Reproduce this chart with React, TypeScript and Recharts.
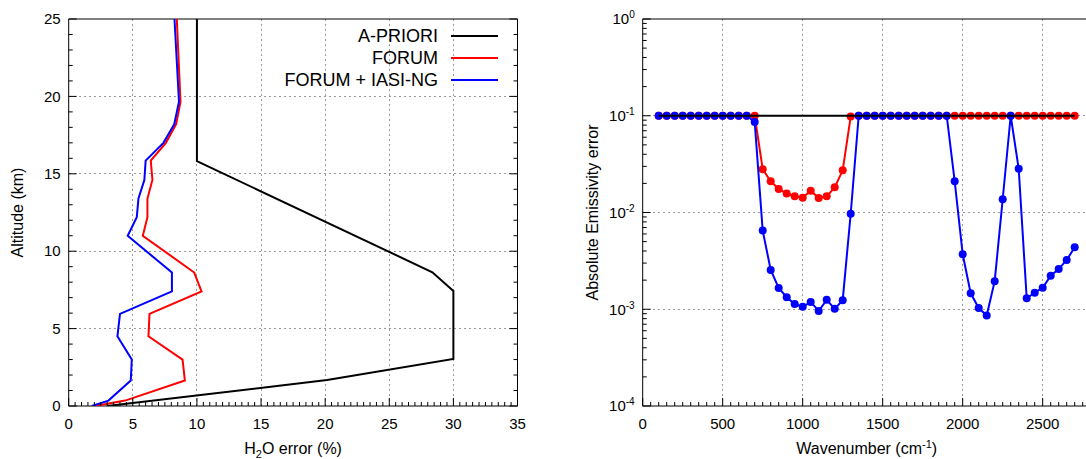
import React from "react";
import { ScatterChart, Scatter, XAxis, YAxis, ReferenceLine, Legend } from "recharts";

const FONT = '"Liberation Sans", Arial, sans-serif';

// ---- left panel: H2O error profiles ----
const profileAlt = [0, 0.35, 1.65, 3.0, 4.5, 5.95, 7.4, 8.62, 11.0, 12.2, 13.4, 14.6, 15.85, 17.0, 18.2, 19.65, 25];
const forumH2O = [2.05, 4.4, 9.06, 8.88, 6.22, 6.3, 10.36, 9.79, 5.78, 6.14, 6.14, 6.53, 6.4, 7.58, 8.38, 8.72, 8.43];
const forumIasiH2O = [1.8, 3.1, 4.84, 4.92, 3.8, 4.0, 8.05, 8.05, 4.6, 5.31, 5.44, 5.9, 6.0, 7.39, 8.23, 8.6, 8.25];
const aprioriAlt = [0, 1.68, 3.04, 7.43, 8.64, 15.82, 25];
const aprioriH2O = [3.0, 20.15, 30.0, 30.0, 28.36, 10.0, 10.0];

const h2oTicks = [0, 5, 10, 15, 20, 25, 30, 35];
const altTicks = [0, 5, 10, 15, 20, 25];

// ---- right panel: emissivity error vs wavenumber ----
const wavenumbers = [
  100, 150, 200, 250, 300, 350, 400, 450, 500, 550, 600, 650, 700, 750, 800, 850, 900, 950,
  1000, 1050, 1100, 1150, 1200, 1250, 1300, 1350, 1400, 1450, 1500, 1550, 1600, 1650, 1700, 1750,
  1800, 1850, 1900, 1950, 2000, 2050, 2100, 2150, 2200, 2250, 2300, 2350, 2400, 2450, 2500, 2550,
  2600, 2650, 2700,
];
const aprioriEmis = [
  0.1, 0.1, 0.1, 0.1, 0.1, 0.1, 0.1, 0.1, 0.1, 0.1, 0.1, 0.1, 0.1, 0.1, 0.1, 0.1, 0.1, 0.1,
  0.1, 0.1, 0.1, 0.1, 0.1, 0.1, 0.1, 0.1, 0.1, 0.1, 0.1, 0.1, 0.1, 0.1, 0.1, 0.1,
  0.1, 0.1, 0.1, 0.1, 0.1, 0.1, 0.1, 0.1, 0.1, 0.1, 0.1, 0.1, 0.1, 0.1, 0.1, 0.1,
  0.1, 0.1, 0.1,
];
const forumEmis = [
  0.1, 0.1, 0.1, 0.1, 0.1, 0.1, 0.1, 0.1, 0.1, 0.1, 0.1, 0.1, 0.1, 0.028, 0.021, 0.0175, 0.0157, 0.0147,
  0.0142, 0.0168, 0.0141, 0.0147, 0.0182, 0.0273, 0.098, 0.1, 0.1, 0.1, 0.1, 0.1, 0.1, 0.1, 0.1, 0.1,
  0.1, 0.1, 0.1, 0.1, 0.1, 0.1, 0.1, 0.1, 0.1, 0.1, 0.1, 0.1, 0.1, 0.1, 0.1, 0.1,
  0.1, 0.1, 0.1,
];
const forumIasiEmis = [
  0.1, 0.1, 0.1, 0.1, 0.1, 0.1, 0.1, 0.1, 0.1, 0.1, 0.1, 0.1, 0.086, 0.0065, 0.00255, 0.00166, 0.00133, 0.00113,
  0.00106, 0.00119, 0.00096, 0.00125, 0.00101, 0.00124, 0.0097, 0.1, 0.1, 0.1, 0.1, 0.1, 0.1, 0.1, 0.1, 0.1,
  0.1, 0.1, 0.1, 0.021, 0.0037, 0.00146, 0.00103, 0.00086, 0.00195, 0.0137, 0.1, 0.0283, 0.0013, 0.00148, 0.00167, 0.00222,
  0.0026, 0.00323, 0.00437,
];

const wnTicks = [0, 500, 1000, 1500, 2000, 2500];
const emisTicks = [1e-4, 1e-3, 1e-2, 1e-1, 1];

const legendNames = ["A-PRIORI", "FORUM", "FORUM + IASI-NG"];
const legendColors = ["#000000", "#ff0000", "#0000ff"];

// minor tick positions (axis decoration only)
const h2oMinor = Array.from({ length: 71 }, (_, i) => i * 0.5);
const altMinor = Array.from({ length: 26 }, (_, i) => i);
const wnMinor = Array.from({ length: 57 }, (_, i) => i * 50);
const emisMinor: number[] = [];
[-4, -3, -2, -1].forEach((d) => {
  for (let m = 1; m <= 9; m++) emisMinor.push(m * Math.pow(10, d));
});
emisMinor.push(1);

const toPoints = (xs: number[], ys: number[]) => xs.map((x, i) => ({ x, y: ys[i] }));

const isLogMajor = (v: number) => Math.abs(Math.log10(v) - Math.round(Math.log10(v))) < 1e-6;

const textStyle = { fontSize: 15, fontFamily: FONT, fill: "#000" };
const titleStyle = { fontSize: 16, fontFamily: FONT, fill: "#000" };

function makeTick(
  side: "bottom" | "top" | "left" | "right",
  majors: (v: number) => boolean,
  label?: (v: number) => React.ReactNode
) {
  return (props: any) => {
    const { x, y, payload } = props;
    const v = payload.value;
    const major = majors(v);
    const len = major ? 8 : 4;
    let line = null;
    if (side === "bottom") line = <line x1={x} y1={y} x2={x} y2={y - len} stroke="#000" />;
    if (side === "top") line = <line x1={x} y1={y} x2={x} y2={y + len} stroke="#000" />;
    if (side === "left") line = <line x1={x} y1={y} x2={x + len} y2={y} stroke="#000" />;
    if (side === "right") line = <line x1={x} y1={y} x2={x - len} y2={y} stroke="#000" />;
    let text = null;
    if (label && major && side === "bottom")
      text = (
        <text x={x} y={y + 18} dy="0.35em" textAnchor="middle" {...textStyle}>
          {label(v)}
        </text>
      );
    if (label && major && side === "left")
      text = (
        <text x={x - 8} y={y} dy="0.35em" textAnchor="end" {...textStyle}>
          {label(v)}
        </text>
      );
    return (
      <g>
        {line}
        {text}
      </g>
    );
  };
}

const expLabel = (v: number) => (
  <>
    10
    <tspan dy={-6} fontSize={10}>
      {Math.round(Math.log10(v))}
    </tspan>
  </>
);

const ProfileLegend = () => (
  <div style={{ fontFamily: FONT, fontSize: 18, color: "#000" }}>
    {legendNames.map((n, i) => (
      <div
        key={n}
        style={{ display: "flex", justifyContent: "flex-end", alignItems: "center", height: 22 }}
      >
        <span>{n}</span>
        <span
          style={{ display: "inline-block", width: 47, height: 2, background: legendColors[i], marginLeft: 13 }}
        />
      </div>
    ))}
  </div>
);

const noDot = () => <g />;
const dot = (color: string) => (p: any) => <circle cx={p.cx} cy={p.cy} r={4} fill={color} />;

const axisCommon = {
  type: "number" as const,
  interval: 0 as const,
  tickSize: 0,
  tickMargin: 0,
  tickLine: false,
  allowDataOverflow: true,
  axisLine: { stroke: "#000", strokeWidth: 1 },
};

const gridStyle = {
  stroke: "#999999",
  strokeDasharray: "2 3",
  strokeWidth: 1,
  ifOverflow: "visible" as const,
  shapeRendering: "crispEdges",
};

const ProfilePanel = () => (
  <ScatterChart width={535} height={459} margin={{ top: 18, right: 16.5, bottom: 23, left: 28.7 }}>
    <XAxis
      {...axisCommon}
      dataKey="x"
      domain={[0, 35]}
      ticks={h2oMinor}
      height={30}
      tick={makeTick("bottom", (v) => v % 5 === 0, (v) => v)}
      label={(p: any) => (
        <text
          x={p.viewBox.x + p.viewBox.width / 2}
          y={p.viewBox.y + 48}
          textAnchor="middle"
          {...titleStyle}
        >
          H<tspan dy={4} fontSize={11}>2</tspan>
          <tspan dy={-4}>O error (%)</tspan>
        </text>
      )}
    />
    <XAxis
      {...axisCommon}
      xAxisId="top"
      orientation="top"
      domain={[0, 35]}
      ticks={h2oMinor}
      height={1}
      tick={makeTick("top", (v) => v % 5 === 0)}
    />
    <YAxis
      {...axisCommon}
      dataKey="y"
      domain={[0, 25]}
      ticks={altMinor}
      width={40}
      tick={makeTick("left", (v) => v % 5 === 0, (v) => v)}
      label={(p: any) => {
        const x = p.viewBox.x + p.viewBox.width - 51;
        const y = p.viewBox.y + p.viewBox.height / 2;
        return (
          <text x={x} y={y} dy="0.35em" textAnchor="middle" transform={`rotate(-90, ${x}, ${y})`} {...titleStyle}>
            Altitude (km)
          </text>
        );
      }}
    />
    <YAxis
      {...axisCommon}
      yAxisId="right"
      orientation="right"
      domain={[0, 25]}
      ticks={altMinor}
      width={1}
      tick={makeTick("right", (v) => v % 5 === 0)}
    />
    {h2oTicks.slice(1, -1).map((v) => (
      <ReferenceLine key={"gx" + v} x={v} xAxisId={0} yAxisId={0} {...gridStyle} />
    ))}
    {altTicks.slice(1, -1).map((v) => (
      <ReferenceLine key={"gy" + v} y={v} xAxisId={0} yAxisId={0} {...gridStyle} />
    ))}
    <Legend
      layout="horizontal"
      verticalAlign="middle"
      align="center"
      content={() => <ProfileLegend />}
      wrapperStyle={{ top: 25, left: 270, width: 228, height: 70 }}
    />
    <Scatter
      name="FORUM"
      data={toPoints(forumH2O, profileAlt)}
      fill="#ff0000"
      line={{ stroke: "#ff0000", strokeWidth: 2 }}
      shape={noDot}
      isAnimationActive={false}
    />
    <Scatter
      name="FORUM + IASI-NG"
      data={toPoints(forumIasiH2O, profileAlt)}
      fill="#0000ff"
      line={{ stroke: "#0000ff", strokeWidth: 2 }}
      shape={noDot}
      isAnimationActive={false}
    />
    <Scatter
      name="A-PRIORI"
      data={toPoints(aprioriH2O, aprioriAlt)}
      fill="#000000"
      line={{ stroke: "#000000", strokeWidth: 2 }}
      shape={noDot}
      isAnimationActive={false}
    />
  </ScatterChart>
);

const EmissivityPanel = () => (
  <ScatterChart width={540} height={459} margin={{ top: 18, right: 9.3, bottom: 23, left: 32.7 }}>
    <XAxis
      {...axisCommon}
      dataKey="x"
      domain={[0, 2800]}
      ticks={wnMinor}
      height={30}
      tick={makeTick("bottom", (v) => v % 500 === 0, (v) => v)}
      label={(p: any) => (
        <text
          x={p.viewBox.x + p.viewBox.width / 2}
          y={p.viewBox.y + 48}
          textAnchor="middle"
          {...titleStyle}
        >
          Wavenumber (cm<tspan dy={-6} fontSize={11}>-1</tspan>
          <tspan dy={6}>)</tspan>
        </text>
      )}
    />
    <XAxis
      {...axisCommon}
      xAxisId="top"
      orientation="top"
      domain={[0, 2800]}
      ticks={wnMinor}
      height={1}
      tick={makeTick("top", (v) => v % 500 === 0)}
    />
    <YAxis
      {...axisCommon}
      dataKey="y"
      scale="log"
      domain={[1e-4, 1]}
      ticks={emisMinor}
      width={50}
      tick={makeTick("left", isLogMajor, expLabel)}
      label={(p: any) => {
        const x = p.viewBox.x + p.viewBox.width - 50;
        const y = p.viewBox.y + p.viewBox.height / 2;
        return (
          <text x={x} y={y} dy="0.35em" textAnchor="middle" transform={`rotate(-90, ${x}, ${y})`} {...titleStyle}>
            Absolute Emissivity error
          </text>
        );
      }}
    />
    {wnTicks.slice(1).map((v) => (
      <ReferenceLine key={"gx" + v} x={v} xAxisId={0} yAxisId={0} {...gridStyle} />
    ))}
    {emisTicks.slice(1, -1).map((v) => (
      <ReferenceLine key={"gy" + v} y={v} xAxisId={0} yAxisId={0} {...gridStyle} />
    ))}
    <Scatter
      name="FORUM"
      data={toPoints(wavenumbers, forumEmis)}
      fill="#ff0000"
      line={{ stroke: "#ff0000", strokeWidth: 2 }}
      shape={dot("#ff0000")}
      isAnimationActive={false}
    />
    <Scatter
      name="FORUM + IASI-NG"
      data={toPoints(wavenumbers, forumIasiEmis)}
      fill="#0000ff"
      line={{ stroke: "#0000ff", strokeWidth: 2 }}
      shape={dot("#0000ff")}
      isAnimationActive={false}
    />
    <Scatter
      name="A-PRIORI"
      data={toPoints(wavenumbers, aprioriEmis)}
      fill="#000000"
      line={{ stroke: "#000000", strokeWidth: 2 }}
      shape={noDot}
      isAnimationActive={false}
    />
  </ScatterChart>
);

export default function App() {
  return (
    <div
      style={{ position: "absolute", left: 0, top: 0, width: 1086, height: 459, overflow: "hidden", background: "#fff" }}
    >
      <div style={{ position: "absolute", left: 0, top: 0 }}>
        <ProfilePanel />
      </div>
      <div style={{ position: "absolute", left: 560, top: 0 }}>
        <EmissivityPanel />
      </div>
    </div>
  );
}
